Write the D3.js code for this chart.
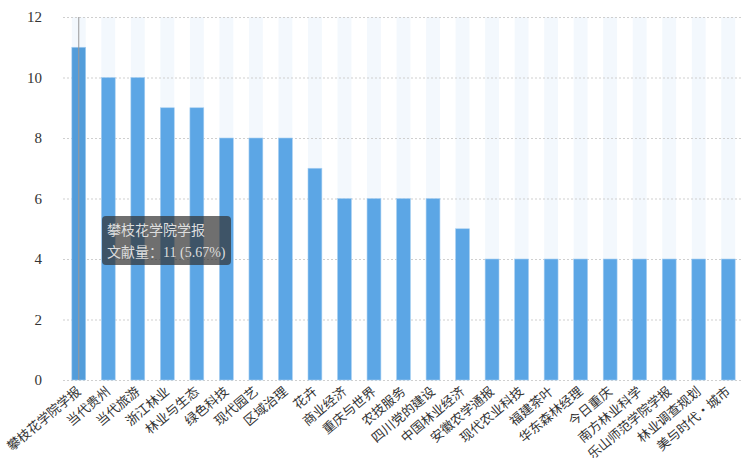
<!DOCTYPE html>
<html>
<head>
<meta charset="utf-8">
<script src="https://cdn.jsdelivr.net/npm/d3@7/dist/d3.min.js"></script>
<style>
  body { margin: 0; background: #fff; }
  svg { display: block; font-family: "Liberation Serif", "Noto Sans CJK SC", serif; }
</style>
</head>
<body>
<svg id="chart" width="749" height="458"></svg>
<script>
// 期刊分布（文献量）
const journals = ['攀枝花学院学报', '当代贵州', '当代旅游', '浙江林业', '林业与生态', '绿色科技', '现代园艺', '区域治理',
  '花卉', '商业经济', '重庆与世界', '农技服务', '四川党的建设', '中国林业经济', '安徽农学通报', '现代农业科技',
  '福建茶叶', '华东森林经理', '今日重庆', '南方林业科学', '乐山师范学院学报', '林业调查规划', '美与时代·城市']
const counts = [11, 10, 10, 9, 9, 8, 8, 8, 7, 6, 6, 6, 6, 5, 4, 4, 4, 4, 4, 4, 4, 4, 4]
const yTicks = [0, 2, 4, 6, 8, 10, 12]
const total = 194 // 11 -> 5.67%
const hoverIndex = 0

var svg = d3.select('#chart')
var margin = { left: 64, right: 6, top: 17, bottom: 78 }
var W = 749, H = 458

var x = d3.scaleBand()
  .domain(journals)
  .range([margin.left, W - margin.right])
  .paddingInner(0)
  .paddingOuter(0)

var y = d3.scaleLinear()
  .domain([0, 12])
  .range([H - margin.bottom, margin.top])

var barW = x.bandwidth() * 0.47

// 背景柱
svg.append('g')
  .selectAll('rect')
  .data(journals)
  .enter()
  .append('rect')
  .attr('x', function(d) { return x(d) + (x.bandwidth() - barW) / 2 })
  .attr('y', y(12))
  .attr('width', barW)
  .attr('height', y(0) - y(12))
  .attr('fill', '#f3f8fd')

// 网格线
svg.append('g')
  .selectAll('line')
  .data(yTicks)
  .enter()
  .append('line')
  .attr('x1', margin.left - 1)
  .attr('x2', W - margin.right)
  .attr('y1', function(d) { return y(d) + 0.5 })
  .attr('y2', function(d) { return y(d) + 0.5 })
  .attr('stroke', '#cfcfcf')
  .attr('stroke-dasharray', '2,2')

// y 轴文字
var yAxis = d3.axisLeft(y).tickValues(yTicks).tickSize(0).tickPadding(22)
svg.append('g')
  .attr('transform', 'translate(' + margin.left + ',0)')
  .call(yAxis)
  .call(function(g) { g.select('.domain').remove() })
  .selectAll('text')
  .attr('font-size', 15)
  .attr('fill', '#333')
  .attr('font-family', '"Liberation Serif", serif')

// 柱子
svg.append('g')
  .selectAll('rect')
  .data(counts)
  .enter()
  .append('rect')
  .attr('x', function(d, i) { return x(journals[i]) + (x.bandwidth() - barW) / 2 })
  .attr('y', function(d) { return y(d) })
  .attr('width', barW)
  .attr('height', function(d) { return y(0) - y(d) })
  .attr('fill', function(d, i) { return i === hoverIndex ? '#539dda' : '#5ca6e5' })
  .attr('stroke', '#a9d0f2')
  .attr('stroke-width', 0.6)

// x 轴文字，旋转 40 度
var xAxis = d3.axisBottom(x).tickSize(0).tickPadding(0)
svg.append('g')
  .attr('transform', 'translate(0,' + y(0) + ')')
  .call(xAxis)
  .call(function(g) { g.select('.domain').remove() })
  .selectAll('text')
  .attr('font-size', 13)
  .attr('fill', '#333')
  .attr('font-family', '"Noto Sans CJK SC", sans-serif')
  .attr('text-anchor', 'end')
  .attr('dy', 0)
  .attr('y', 0)
  .attr('transform', 'translate(3,13) rotate(-40)')

// 鼠标悬停指示线
var cx = x(journals[hoverIndex]) + x.bandwidth() / 2
svg.append('line')
  .attr('x1', cx).attr('x2', cx)
  .attr('y1', y(12)).attr('y2', y(0))
  .attr('stroke', '#999')
  .attr('stroke-width', 1)

// 提示框
var tip = svg.append('g').attr('transform', 'translate(102,216)')
tip.append('rect')
  .attr('width', 129)
  .attr('height', 49)
  .attr('rx', 4)
  .attr('fill', 'rgba(50,50,50,0.7)')
tip.append('text')
  .attr('x', 5).attr('y', 19)
  .attr('font-size', 14)
  .attr('fill', '#ddd')
  .text(journals[hoverIndex])
tip.append('text')
  .attr('x', 5).attr('y', 41)
  .attr('font-size', 14)
  .attr('fill', '#ddd')
  .text('文献量：' + counts[hoverIndex] + ' (' + (counts[hoverIndex] / total * 100).toFixed(2) + '%)')
</script>
</body>
</html>
